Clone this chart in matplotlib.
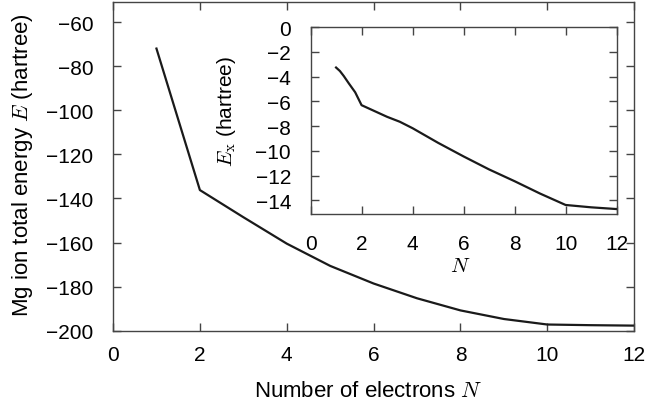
import matplotlib.pyplot as plt
import numpy as np

plt.rcParams['font.family'] = ['Liberation Sans', 'DejaVu Sans']
plt.rcParams['mathtext.fontset'] = 'cm'

# total energy of the Mg ion vs. number of electrons
n_main = [1, 2, 3, 4, 5, 6, 7, 8, 9, 10, 11, 12]
e_total = [-72.0, -136.2, -148.5, -160.5, -170.6, -178.6, -185.3, -190.8,
           -194.7, -197.2, -197.5, -197.7]

# exchange energy (inset)
n_inset = [1, 1.15, 1.3, 1.5, 1.75, 2, 3, 3.5, 4, 5, 6, 7, 8, 9, 10, 11, 12]
e_x = [-3.27, -3.55, -3.95, -4.55, -5.27, -6.31, -7.25, -7.65, -8.17, -9.35,
       -10.45, -11.5, -12.45, -13.45, -14.37, -14.56, -14.70]

FRAME = '#444444'
LINE = '#1a1a1a'


def _style_axes(ax, xpad, ypad):
    for sp in ax.spines.values():
        sp.set_color(FRAME)
        sp.set_linewidth(1.0)
    ax.tick_params(direction='in', top=True, right=True, length=5.5,
                   width=1.0, color=FRAME, labelsize=15)
    ax.tick_params(axis='x', pad=xpad)
    ax.tick_params(axis='y', pad=ypad)


fig = plt.figure(figsize=(6.47, 4.10), dpi=100)

ax = fig.add_axes([0.1747, 0.191, 0.8055, 0.801])
ax.plot(n_main, e_total, color=LINE, lw=1.6)
ax.set_xlim(0, 12)
ax.set_ylim(-200, -51)
ax.set_xticks(np.arange(0, 13, 2))
ax.set_yticks(np.arange(-200, -59, 20))
ax.set_xlabel('Number of electrons $N$', fontsize=16, va='center')
ax.set_ylabel('Mg ion total energy $E$ (hartree)', fontsize=16, va='center')
ax.xaxis.set_label_coords(0.49, -0.181)
ax.yaxis.set_label_coords(-0.174, 0.508)
_style_axes(ax, 10, 14)

ins = fig.add_axes([0.480, 0.4756, 0.473, 0.456])
ins.plot(n_inset, e_x, color=LINE, lw=1.6)
ins.set_xlim(0, 12)
ins.set_ylim(-15.1, 0)
ins.set_xticks(np.arange(0, 13, 2))
ins.set_yticks(np.arange(-14, 1, 2))
ins.set_xlabel('$N$', fontsize=15, va='center')
ins.set_ylabel(r'$E_\mathrm{x}$ (hartree)', fontsize=15, va='center')
ins.xaxis.set_label_coords(0.488, -0.275)
ins.yaxis.set_label_coords(-0.275, 0.551)
_style_axes(ins, 14.5, 14)

fig.savefig('out.png', dpi=100)
